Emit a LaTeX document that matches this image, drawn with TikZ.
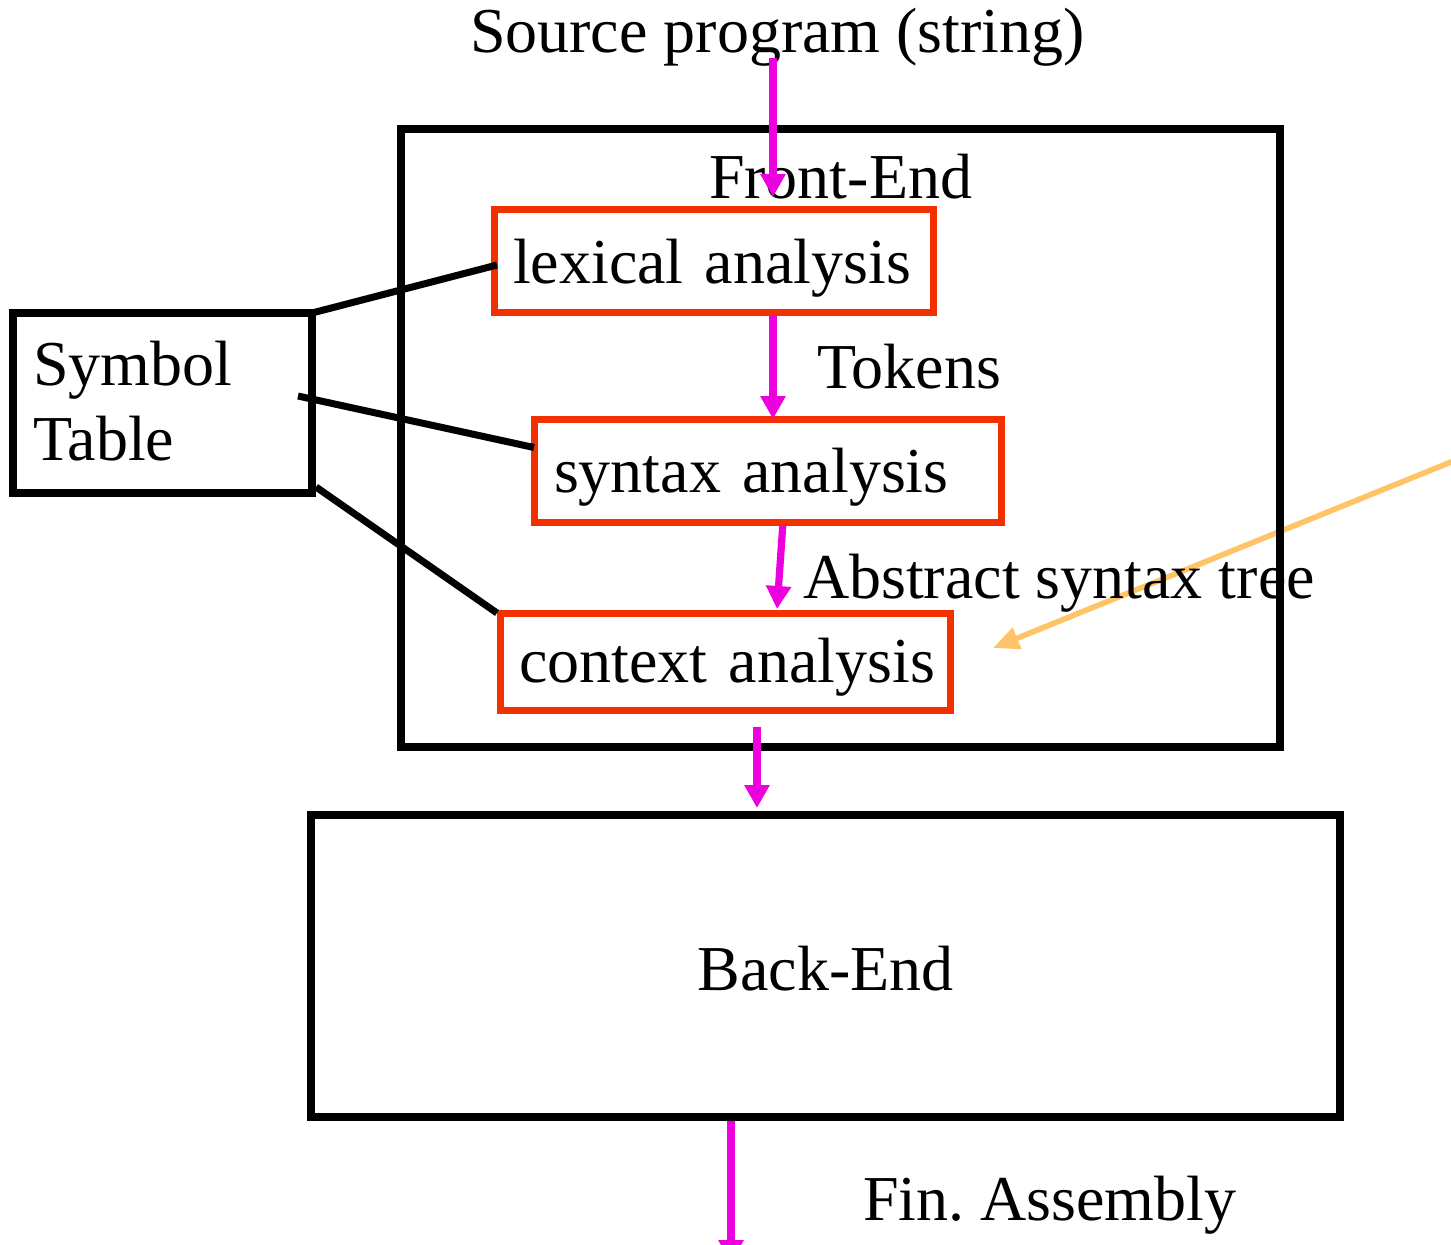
\documentclass[tikz,border=0pt]{standalone}
\usepackage{fontspec}
\setmainfont{Liberation Serif}
\usetikzlibrary{arrows.meta,calc}
\definecolor{flowmag}{RGB}{236,0,222}
\definecolor{phasered}{RGB}{242,48,0}
\definecolor{notearrow}{RGB}{255,196,104}

\begin{document}
\frenchspacing
\hyphenpenalty=10000
\begin{tikzpicture}[x=0.5pt,y=-0.5pt,
  every node/.style={font=\fontsize{32}{37.5}\selectfont, inner sep=0pt, outer sep=0pt},
  blackbox/.style={draw=black, line width=3.75pt, rectangle},
  phasebox/.style={draw=phasered, line width=3.5pt, rectangle, align=left},
  flow/.style={draw=flowmag, line width=3.6pt, -{Triangle[length=11.5pt,width=12pt]}},
  link/.style={draw=black, line width=3.5pt},
  note/.style={draw=notearrow, line width=2.8pt, -{Triangle[length=13pt,width=11pt]}},
  caption/.style={anchor=base west}
]
\useasboundingbox (0,0) rectangle (1451,1244);

% pointer coming in from the right
\coordinate (notestart) at (1460,458.3);
\coordinate (notetip) at (993,648);
\draw[note] (notestart) -- (notetip);

% front end with its three phases
\node[blackbox, minimum width=439.5pt, minimum height=309pt] (front) at (840.5,438) {};
\node[caption] (fronttitle) at (709,198) {Front-End};

\node[phasebox, minimum width=219.5pt, minimum height=51.5pt, inner xsep=9.5pt,
      text width=200.5pt, text height=24pt, text depth=1.5pt] (lex) at (713.5,260.5) {lexical~analysis};
\node[phasebox, minimum width=233.5pt, minimum height=51.5pt, inner xsep=10pt,
      text width=213.5pt, text height=22.5pt, text depth=1pt] (syn) at (767.5,470.5) {syntax~analysis};
\node[phasebox, minimum width=225pt, minimum height=48.5pt, inner xsep=9.5pt,
      text width=206pt, text height=22pt, text depth=1.5pt] (ctx) at (725,661.5) {context~analysis};

% back end
\node[blackbox, minimum width=514.5pt, minimum height=151pt,
      text height=24pt, text depth=0pt] (back) at (825.5,966) {Back-End};

% symbol table
\node[blackbox, minimum width=149.5pt, minimum height=90pt, inner xsep=10pt, align=left,
      text width=129.5pt, text height=22pt, text depth=40pt] (sym) at (162.5,403) {Symbol\\Table};

% labels
\node[caption] (src) at (470,52) {Source program (string)};
\node[caption] (tokens) at (817,388) {Tokens};
\node[caption] (ast) at (803,598) {Abstract syntax tree};
\node[caption] (asm) at (863,1220) {Fin. Assembly};

% symbol table links
\draw[link] (sym.north east) -- ($(lex.west)+(3,4.5)$);
\draw[link] ($(sym.east)+(-14,-7)$) -- ($(syn.west)+(0,-23)$);
\draw[link] ($(sym.south east)+(4,-6)$) -- ($(ctx.north west)+(-3,0)$);

% data flow
\coordinate (srcin) at (773,197);
\coordinate (tokx) at (773,0);
\coordinate (astfrom) at (783,0);
\coordinate (astto) at (777,0);
\coordinate (irx) at (757,0);
\coordinate (asmout) at (731,1263);
\draw[flow] ($(src.south -| srcin)+(0,-8)$) -- (srcin);
\draw[flow, shorten <=1.75pt] (lex.south -| tokx) -- (syn.north -| tokx);
\draw[flow, shorten <=1.75pt] (syn.south -| astfrom) -- ($(ctx.north -| astto)+(0,-4)$);
\draw[flow, shorten <=8.5pt, shorten >=3.5pt] (ctx.south -| irx) -- (back.north -| irx);
\draw[flow, shorten <=1.9pt] (back.south -| asmout) -- (asmout);
\end{tikzpicture}
\end{document}
